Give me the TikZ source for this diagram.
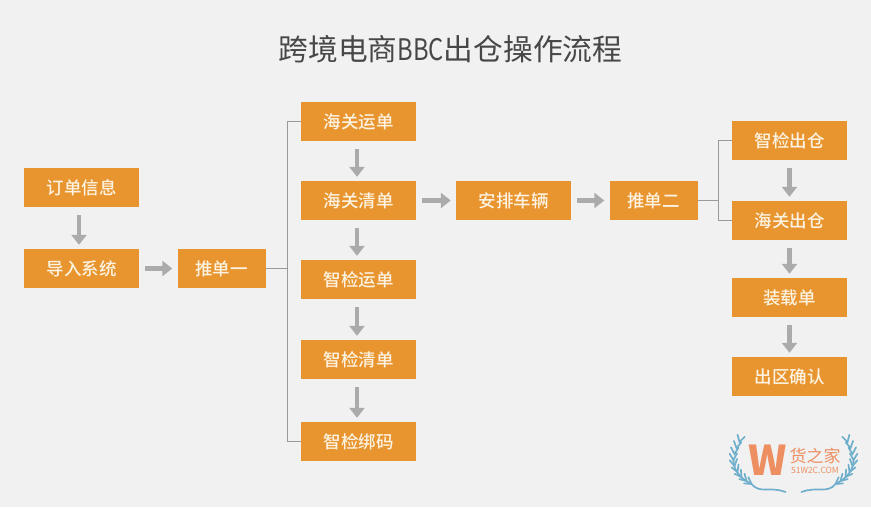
\documentclass[tikz,border=0pt]{standalone}
\usepackage{fontspec}
\setmainfont{Noto Sans CJK SC}
\newfontfamily\boxfont{Noto Sans CJK SC Medium}
\usepackage{tikz}
\usetikzlibrary{arrows.meta}
\definecolor{bgcol}{HTML}{F1F1F1}
\definecolor{boxcol}{HTML}{E8952F}
\definecolor{boxtext}{HTML}{FDF3E2}
\definecolor{arrowcol}{HTML}{ABABAB}
\definecolor{linecol}{HTML}{999999}
\definecolor{leafcol}{HTML}{6FAFCB}
\definecolor{markcol}{HTML}{EE8F62}

\begin{document}
\begin{tikzpicture}[x=1pt,y=-1pt]
    \tikzset{
      box/.style={fill=boxcol, text=boxtext, font=\boxfont\fontsize{17.5}{20}\selectfont, inner sep=0pt, minimum width=115pt, minimum height=39pt},
      pushbox/.style={box, minimum width=88pt},
      flow/.style={draw=arrowcol, line width=4.5pt, -{Triangle[width=15pt,length=10pt]}},
      vflow/.style={flow, shorten <=8pt, shorten >=4pt},
      midflow/.style={vflow, transform canvas={xshift=-1.5pt}},
      hflow/.style={flow, shorten <=6pt, shorten >=5pt},
      branch/.style={draw=linecol, line width=0.8pt},
      leaf/.style={draw=leafcol, line width=1.7pt, line cap=round}
    }
    \useasboundingbox (0,0) rectangle (871,507);
    \fill [bgcol] (0,0) rectangle (871,507);

    \node [font=\fontsize{29.7}{34}\selectfont, text=black!72] (title) at (450.5,49) {跨境电商\scalebox{0.8}[1]{BBC}出仓操作流程};

    % left column
    \node [box] (order) at (81.5,187.5) {订单信息};
    \node [box, below of = order, node distance=81pt] (import) {导入系统};
    \node [pushbox, right of = import, node distance=140pt] (pushone) {推单一};

    % customs and inspection column
    \node [box] (waybill) at (358.5,121.5) {海关运单};
    \node [box, below of = waybill, node distance=79pt] (clearance) {海关清单};
    \node [box, below of = clearance, node distance=79pt] (ciqbill) {智检运单};
    \node [box, below of = ciqbill, node distance=80pt] (ciqlist) {智检清单};
    \node [box, below of = ciqlist, node distance=82pt] (ciqbind) {智检绑码};

    \node [box, right of = clearance, node distance=155pt] (vehicle) {安排车辆};
    \node [pushbox, right of = vehicle, node distance=140pt] (pushtwo) {推单二};

    % right column
    \node [box] (ciqout) at (789.5,140.5) {智检出仓};
    \node [box, below of = ciqout, node distance=80pt] (customsout) {海关出仓};
    \node [box, below of = customsout, node distance=77pt] (loading) {装载单};
    \node [box, below of = loading, node distance=79pt] (confirm) {出区确认};

    \path [vflow, transform canvas={xshift=-2.5pt}] (order)--(import);
    \path [hflow] (import)--(pushone);
    \path [midflow] (waybill)--(clearance);
    \path [midflow] (clearance)--(ciqbill);
    \path [midflow] (ciqbill)--(ciqlist);
    \path [midflow] (ciqlist)--(ciqbind);
    \path [hflow] (clearance)--(vehicle);
    \path [hflow] (vehicle)--(pushtwo);
    \path [vflow] (ciqout)--(customsout);
    \path [vflow] (customsout)--(loading);
    \path [vflow] (loading)--(confirm);

    \coordinate (hubone) at (287,268.5);
    \coordinate (hubtwo) at (718,200.5);
    \path [branch] (pushone.east)--(hubone);
    \path [branch] (hubone)|-(waybill.west);
    \path [branch] (hubone)|-(ciqbind.west);
    \path [branch] (pushtwo.east)--(hubtwo);
    \path [branch] (hubtwo)|-(ciqout.west);
    \path [branch] (hubtwo)|-(customsout.west);

    % logo
    \foreach \s in {1,-1} {
      \begin{scope}[shift={(793.5,0)}, xscale=\s]
        \foreach \x/\y/\r in {-54/442/-75,-57/448/-80,-59/454/-88,-60/460/-92,-59/466/-100,-56/472/-112,-52/477/-125,-47/481/-135,-42/484/-145} {
          \draw [leaf] (\x,\y)++(\r-30:7.5)--(\x,\y)--++(\r+30:7.5);
        }
        \draw [leaf] (-60,460) .. controls (-60,470) and (-54,478) .. (-42,484) .. controls (-34,494) and (-24,486) .. (-8,492);
      \end{scope}
    }
    \node [font=\fontsize{41}{44}\selectfont\bfseries, text=markcol, inner sep=0pt] (mark) at (768,460) {W};
    \node [font=\fontsize{17}{20}\selectfont, text=markcol, inner sep=0pt] (brand) at (815,455.5) {货之家};
    \node [font=\fontsize{8.5}{10}\selectfont, text=markcol, inner sep=0pt] (site) at (815,470) {51W2C.COM};
\end{tikzpicture}
\end{document}
